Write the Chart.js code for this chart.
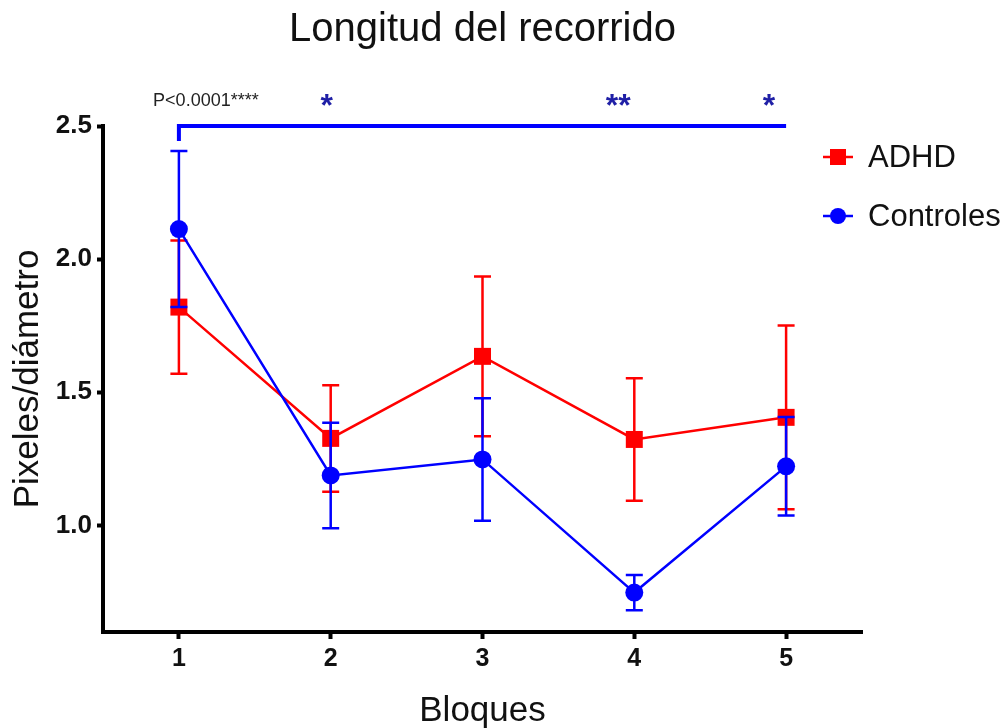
<!DOCTYPE html>
<html>
<head>
<meta charset="utf-8">
<script src="https://cdn.jsdelivr.net/npm/chart.js@4/dist/chart.umd.min.js"></script>
<style>
  html, body { margin: 0; padding: 0; background: #fff; }
</style>
</head>
<body>
<canvas id="lineChart" width="1005" height="728"></canvas>
<script>
// Longitud del recorrido por bloque (media ± SEM)
const bloques = ['1', '2', '3', '4', '5'];
const adhd = [1.82, 1.327, 1.635, 1.323, 1.406];
const adhdSem = [0.25, 0.2, 0.3, 0.23, 0.345];
const controles = [2.113, 1.188, 1.248, 0.748, 1.222];
const controlesSem = [0.293, 0.198, 0.23, 0.066, 0.185];
const yTicks = [1.0, 1.5, 2.0, 2.5];
const estrellas = ['', '*', '', '**', '*'];
const pTexto = 'P<0.0001****';

const FONT = '"Liberation Sans", Arial, sans-serif';

// barras de error verticales con remate, debajo de cada serie
const errorBars = {
    id: 'errorBars',
    beforeDatasetDraw(chart, args) {
        const ds = chart.data.datasets[args.index];
        if (!ds.sem) return;
        const y = chart.scales.y;
        const ctx = chart.ctx;
        ctx.save();
        ctx.strokeStyle = ds.borderColor;
        ctx.lineWidth = 2.5;
        args.meta.data.forEach((pt, i) => {
            const hi = y.getPixelForValue(ds.data[i] + ds.sem[i]);
            const lo = y.getPixelForValue(ds.data[i] - ds.sem[i]);
            ctx.beginPath();
            ctx.moveTo(pt.x, hi);
            ctx.lineTo(pt.x, lo);
            ctx.moveTo(pt.x - 8.5, hi);
            ctx.lineTo(pt.x + 8.5, hi);
            ctx.moveTo(pt.x - 8.5, lo);
            ctx.lineTo(pt.x + 8.5, lo);
            ctx.stroke();
        });
        ctx.restore();
    }
};

// título, corchete de significación y leyenda
const extras = {
    id: 'extras',
    afterDraw(chart) {
        const ctx = chart.ctx;
        const x = chart.scales.x;
        const y = chart.scales.y;
        const area = chart.chartArea;
        ctx.save();

        ctx.fillStyle = '#111';
        ctx.font = '40px ' + FONT;
        ctx.textAlign = 'center';
        ctx.textBaseline = 'middle';
        ctx.fillText('Longitud del recorrido', (area.left + area.right) / 2, 30);

        // corchete
        const yb = y.getPixelForValue(2.5);
        const x1 = x.getPixelForValue(0);
        const x5 = x.getPixelForValue(bloques.length - 1);
        ctx.strokeStyle = '#0000ff';
        ctx.lineWidth = 4;
        ctx.beginPath();
        ctx.moveTo(x1, yb + 15);
        ctx.lineTo(x1, yb);
        ctx.lineTo(x5, yb);
        ctx.stroke();

        ctx.fillStyle = '#222';
        ctx.font = '18px ' + FONT;
        ctx.fillText(pTexto, x1 + 27, yb - 25);

        const shift = [0, -4, 0, -16, -17];
        ctx.fillStyle = '#1f1fa6';
        ctx.font = 'bold 32px ' + FONT;
        ctx.textBaseline = 'alphabetic';
        estrellas.forEach((s, i) => {
            if (s) ctx.fillText(s, x.getPixelForValue(i) + shift[i], yb - 10);
        });

        // leyenda
        ctx.textAlign = 'left';
        ctx.textBaseline = 'middle';
        ctx.font = '31px ' + FONT;
        chart.data.datasets.forEach((ds, i) => {
            const ly = 157 + i * 59;
            ctx.strokeStyle = ds.borderColor;
            ctx.fillStyle = ds.borderColor;
            ctx.lineWidth = 2.5;
            ctx.beginPath();
            ctx.moveTo(823, ly);
            ctx.lineTo(853, ly);
            ctx.stroke();
            ctx.beginPath();
            if (ds.pointStyle === 'rect') {
                ctx.rect(830, ly - 8, 16, 16);
            } else {
                ctx.arc(838, ly, 8, 0, Math.PI * 2);
            }
            ctx.fill();
            ctx.fillStyle = '#111';
            ctx.fillText(ds.label, 868, ly + 1);
        });
        ctx.restore();
    }
};

new Chart(document.getElementById('lineChart').getContext('2d'), {
    type: 'line',
    data: {
        labels: bloques,
        datasets: [
            {
                label: 'ADHD',
                data: adhd,
                sem: adhdSem,
                borderColor: '#ff0000',
                backgroundColor: '#ff0000',
                borderWidth: 2.5,
                pointStyle: 'rect',
                pointRadius: 12,
                pointBorderWidth: 0,
                order: 1
            },
            {
                label: 'Controles',
                data: controles,
                sem: controlesSem,
                borderColor: '#0000ff',
                backgroundColor: '#0000ff',
                borderWidth: 2.5,
                pointStyle: 'circle',
                pointRadius: 9,
                pointBorderWidth: 0,
                order: 0
            }
        ]
    },
    options: {
        responsive: false,
        animation: false,
        layout: { padding: { top: 126, right: 143, bottom: 0, left: 0 } },
        plugins: {
            legend: { display: false },
            title: { display: false },
            tooltip: { enabled: false }
        },
        scales: {
            x: {
                offset: true,
                grid: { drawOnChartArea: false, tickLength: 7, tickWidth: 4, color: '#000', offset: false },
                border: { width: 4, color: '#000' },
                ticks: { color: '#111', padding: 5, font: { family: FONT, size: 25, weight: 'bold' } },
                title: {
                    display: true, text: 'Bloques', color: '#111',
                    font: { family: FONT, size: 35 }, padding: { top: 0, bottom: -4 }
                },
                afterFit(scale) { scale.height = 96; }
            },
            y: {
                min: 0.6,
                max: 2.5,
                afterBuildTicks(scale) { scale.ticks = yTicks.map(v => ({ value: v })); },
                grid: { drawOnChartArea: false, tickLength: 6, tickWidth: 4, color: '#000' },
                border: { width: 4, color: '#000' },
                ticks: {
                    color: '#111', padding: 5,
                    font: { family: FONT, size: 26, weight: 'bold' },
                    callback: v => v.toFixed(1)
                },
                title: {
                    display: true, text: 'Pixeles/diámetro', color: '#111',
                    font: { family: FONT, size: 35 }, padding: { top: 7, bottom: 0 }
                },
                afterFit(scale) { scale.width = 103; }
            }
        }
    },
    plugins: [errorBars, extras]
});
</script>
</body>
</html>
